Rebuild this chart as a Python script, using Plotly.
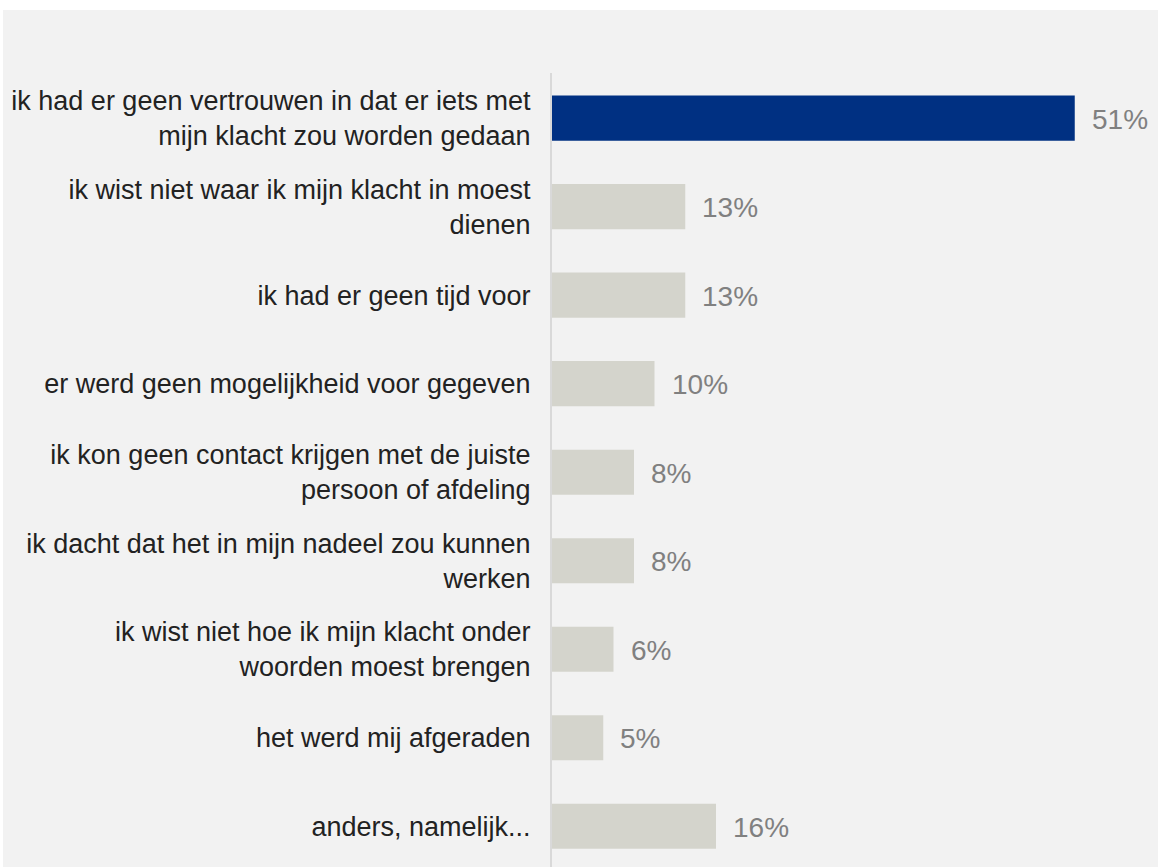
import plotly.graph_objects as go

categories = [
    "ik had er geen vertrouwen in dat er iets met<br>mijn klacht zou worden gedaan",
    "ik wist niet waar ik mijn klacht in moest<br>dienen",
    "ik had er geen tijd voor",
    "er werd geen mogelijkheid voor gegeven",
    "ik kon geen contact krijgen met de juiste<br>persoon of afdeling",
    "ik dacht dat het in mijn nadeel zou kunnen<br>werken",
    "ik wist niet hoe ik mijn klacht onder<br>woorden moest brengen",
    "het werd mij afgeraden",
    "anders, namelijk...",
]
values = [51, 13, 13, 10, 8, 8, 6, 5, 16]
value_labels = [f"{v}%" for v in values]
colors = ["#003082"] + ["#d4d4cc"] * (len(values) - 1)

W, H = 1158, 867
L, R, T, B = 552, 8, 73, 0
pw, ph = W - L - R, H - T - B
FONT = "Liberation Sans, Arial, sans-serif"

fig = go.Figure(go.Bar(
    x=values, y=categories, orientation="h",
    marker=dict(color=colors, line=dict(width=0)),
    width=0.51, hoverinfo="skip",
))

for v, c, t in zip(values, categories, value_labels):
    fig.add_annotation(x=v, y=c, text=t, xanchor="left", yanchor="middle",
                       xshift=15, yshift=-1, showarrow=False,
                       font=dict(family=FONT, size=28, color="#808080"))

fig.add_shape(type="rect", xref="paper", yref="paper",
              x0=(3 - L) / pw, x1=(W - L + 5) / pw,
              y0=-0.05, y1=(H - 10 - B) / ph,
              fillcolor="#f2f2f2", line=dict(width=0), layer="below")

fig.update_layout(
    width=W, height=H,
    margin=dict(l=L, r=R, t=T, b=B, autoexpand=False),
    paper_bgcolor="white", plot_bgcolor="rgba(0,0,0,0)",
    showlegend=False,
    font=dict(family=FONT, size=27, color="#222222"),
    xaxis=dict(range=[0, pw / 10.25], visible=False, showgrid=False, zeroline=False, fixedrange=True),
    yaxis=dict(type="category", categoryorder="array", categoryarray=categories,
               range=[8.46, -0.51], showline=True, linecolor="#d9d9d9", linewidth=2,
               showgrid=False, zeroline=False, ticks="", ticklabelstandoff=14,
               tickfont=dict(family=FONT, size=27, color="#222222"), automargin=False, fixedrange=True),
)

fig.write_html("out.html")
